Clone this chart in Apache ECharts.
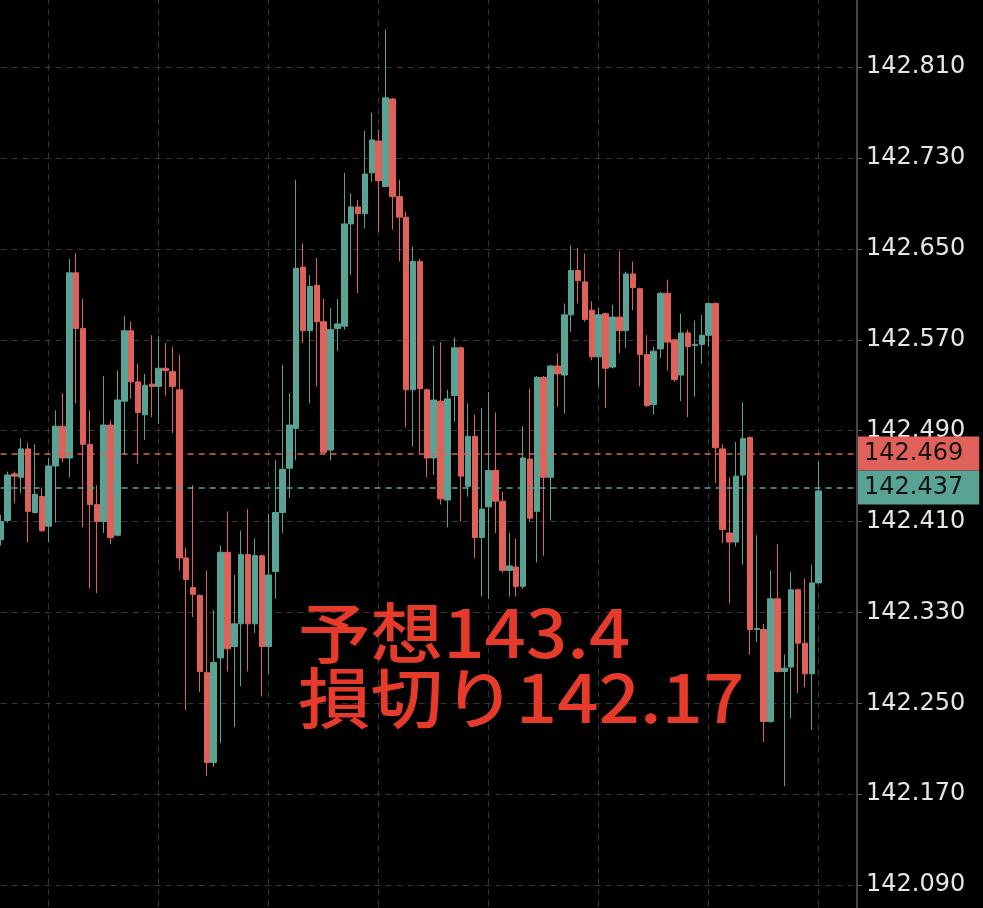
<!DOCTYPE html>
<html><head><meta charset="utf-8">
<script src="https://cdn.jsdelivr.net/npm/echarts@6/dist/echarts.min.js"></script>
<style>html,body{margin:0;padding:0;background:#000;overflow:hidden}#c{width:983px;height:908px;}</style>
</head><body><div id="c"></div>
<script>
const opens = [142.394,142.411,142.452,142.449,142.474,142.418,142.432,142.406,142.459,142.494,
142.466,142.629,142.580,142.478,142.425,142.410,142.495,142.398,142.516,142.578,
142.533,142.504,142.531,142.529,142.545,142.542,142.526,142.378,142.352,142.345,
142.277,142.198,142.290,142.383,142.300,142.320,142.381,142.320,142.380,142.300,
142.366,142.418,142.457,142.492,142.634,142.578,142.618,142.586,142.473,142.580,
142.582,142.672,142.687,142.681,142.717,142.745,142.705,142.782,142.696,142.678,
142.526,142.639,142.526,142.466,142.516,142.429,142.521,142.563,142.441,142.485,
142.396,142.423,142.455,142.428,142.367,142.370,142.353,142.465,142.419,142.537,
142.449,142.547,142.539,142.592,142.631,142.621,142.596,142.555,142.593,142.546,
142.590,142.578,142.628,142.615,142.557,142.513,142.562,142.611,142.570,142.539,
142.576,142.565,142.566,142.574,142.602,142.474,142.400,142.392,142.451,142.484,
142.315,142.315,142.234,142.342,142.278,142.282,142.350,142.303,142.276,142.356];
const closes = [142.410,142.451,142.450,142.474,142.419,142.434,142.402,142.459,142.494,142.466,
142.629,142.580,142.478,142.425,142.410,142.495,142.396,142.517,142.578,142.533,
142.506,142.530,142.529,142.545,142.543,142.529,142.378,142.359,142.346,142.278,
142.198,142.286,142.383,142.298,142.320,142.381,142.320,142.380,142.300,142.363,
142.418,142.456,142.495,142.633,142.578,142.617,142.586,142.471,142.579,142.584,
142.672,142.687,142.681,142.716,142.746,142.710,142.783,142.696,142.678,142.526,
142.639,142.527,142.466,142.517,142.430,142.518,142.563,142.450,142.485,142.396,
142.421,142.455,142.428,142.367,142.371,142.353,142.466,142.413,142.537,142.449,
142.547,142.540,142.592,142.631,142.622,142.588,142.555,142.592,142.545,142.590,
142.578,142.628,142.616,142.557,142.512,142.560,142.611,142.568,142.535,142.576,
142.564,142.566,142.574,142.602,142.475,142.403,142.392,142.450,142.483,142.315,
142.316,142.234,142.342,142.278,142.281,142.350,142.303,142.276,142.356,142.437];
const lows = [142.389,142.409,142.426,142.435,142.392,142.417,142.401,142.392,142.409,142.462,
142.449,142.514,142.405,142.351,142.347,142.400,142.390,142.397,142.469,142.518,
142.461,142.482,142.502,142.496,142.521,142.488,142.367,142.244,142.326,142.260,
142.186,142.194,142.215,142.278,142.229,142.265,142.278,142.312,142.256,142.276,
142.342,142.400,142.431,142.464,142.567,142.514,142.529,142.470,142.464,142.560,
142.579,142.627,142.611,142.668,142.709,142.665,142.705,142.667,142.639,142.493,
142.476,142.470,142.449,142.451,142.425,142.405,142.498,142.410,142.432,142.378,
142.344,142.342,142.400,142.365,142.344,142.344,142.351,142.410,142.374,142.380,
142.411,142.511,142.505,142.577,142.602,142.586,142.552,142.529,142.510,142.545,
142.558,142.563,142.596,142.529,142.511,142.504,142.554,142.543,142.533,142.516,
142.502,142.520,142.549,142.564,142.444,142.391,142.338,142.388,142.372,142.293,
142.304,142.216,142.233,142.277,142.177,142.237,142.259,142.264,142.227,142.356];
const highs = [142.416,142.454,142.454,142.483,142.479,142.478,142.440,142.466,142.508,142.523,
142.641,142.646,142.606,142.508,142.442,142.538,142.499,142.543,142.591,142.586,
142.549,142.540,142.574,142.573,142.567,142.564,142.557,142.387,142.442,142.346,
142.367,142.332,142.389,142.419,142.363,142.402,142.421,142.395,142.381,142.417,
142.464,142.548,142.523,142.711,142.655,142.627,142.642,142.606,142.598,142.606,
142.717,142.699,142.693,142.754,142.770,142.755,142.843,142.783,142.711,142.683,
142.652,142.641,142.527,142.565,142.568,142.526,142.572,142.564,142.514,142.504,
142.510,142.524,142.506,142.436,142.400,142.395,142.494,142.527,142.538,142.538,
142.548,142.558,142.602,142.653,142.651,142.646,142.604,142.598,142.594,142.601,
142.648,142.630,142.639,142.616,142.574,142.564,142.612,142.623,142.571,142.593,
142.579,142.587,142.592,142.603,142.603,142.478,142.449,142.480,142.515,142.485,
142.398,142.320,142.367,142.390,142.293,142.366,142.351,142.360,142.372,142.463];
const emptySlots = 6;
const categories = Array.from({length: opens.length + emptySlots}, (_, i) => String(i));
const yTickMin = 142.010, yTickMax = 142.890, yTickStep = 0.08;
const redLevel = 142.469;
const tealLevel = 142.437;
const noteLines = ['予想143.4', '損切り142.17'];

const TEAL = '#58a394', RED = '#e0605a', GRID = '#363636';
const candles = opens.map((o, i) => [o, closes[i], lows[i], highs[i]]);

const chart = echarts.init(document.getElementById('c'), null, {renderer: 'canvas'});
chart.setOption({
  backgroundColor: '#000',
  animation: false,
  grid: {left: 0.6, top: -23.7, width: 859.4, height: 999.7, outerBoundsMode: 'none'},
  xAxis: {
    type: 'category', data: categories, boundaryGap: false,
    axisLine: {show: false}, axisTick: {show: false}, axisLabel: {show: false},
    splitLine: {show: true, interval: (i) => i >= 7 && (i - 7) % 16 === 0,
      lineStyle: {color: GRID, type: [6, 5], width: 1}}
  },
  yAxis: {
    type: 'value', position: 'right', offset: -3, scale: true,
    min: yTickMin, max: yTickMax, interval: yTickStep,
    axisLine: {show: true, lineStyle: {color: '#5c5c5c', width: 1.5}},
    axisTick: {show: true, length: 5, lineStyle: {color: '#5c5c5c'}},
    axisLabel: {color: '#e6e6e6', fontSize: 24, fontFamily: 'DejaVu Sans', margin: 9,
      formatter: v => v.toFixed(3)},
    splitLine: {show: true, lineStyle: {color: GRID, type: [6, 5], width: 1}}
  },
  series: [{
    type: 'candlestick',
    data: candles,
    barWidth: 6,
    itemStyle: {color: TEAL, color0: RED, borderColor: TEAL, borderColor0: RED, borderWidth: 1},
    markLine: {
      symbol: ['none', 'none'], silent: true, animation: false,
      data: [
        {yAxis: redLevel, lineStyle: {color: RED, type: [6, 5], width: 1.5},
          label: {show: true, position: 'end', formatter: redLevel.toFixed(3), color: '#111',
            backgroundColor: RED, fontSize: 24, fontFamily: 'DejaVu Sans',
            padding: [5, 16, 5, 6], distance: -2, lineHeight: 24}},
        {yAxis: tealLevel, lineStyle: {color: TEAL, type: [6, 5], width: 1.5},
          label: {show: true, position: 'end', formatter: tealLevel.toFixed(3), color: '#111',
            backgroundColor: TEAL, fontSize: 24, fontFamily: 'DejaVu Sans',
            padding: [5, 16, 5, 6], distance: -2, lineHeight: 24}}
      ]
    }
  }],
  graphic: [{
    type: 'text', x: 298, y: 600, scaleX: 1.1, z: 100,
    style: {text: noteLines.join('\n'), fill: '#e63a2b', fontSize: 66,
      fontFamily: '"Noto Sans CJK JP"', fontWeight: 500, lineHeight: 65,
      align: 'left', verticalAlign: 'top'}
  }]
});
</script></body></html>
